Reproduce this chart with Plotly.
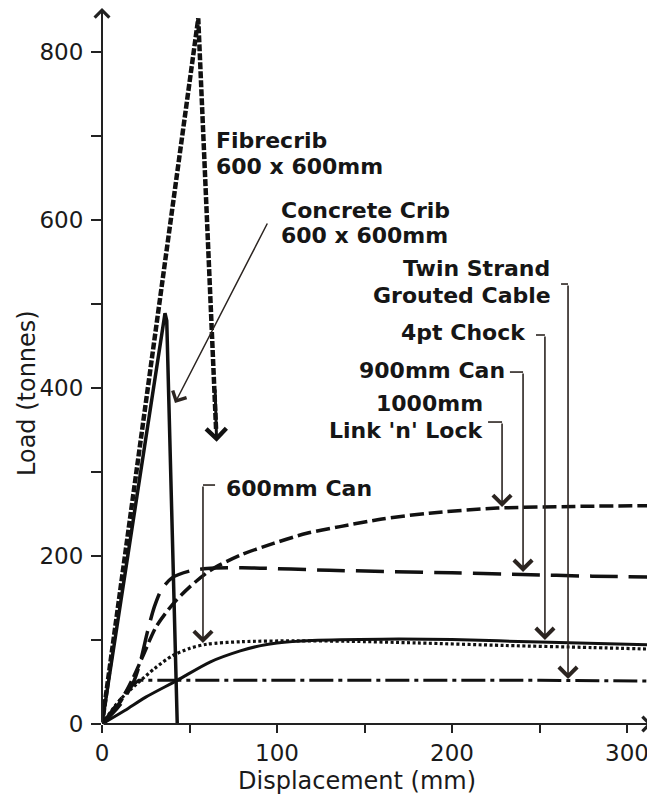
import plotly.graph_objects as go

# ---------------- data ----------------
concrete_x = [0, 20, 36, 37, 43]
concrete_y = [0, 270, 489, 480, 0]

fibre_x = [0, 55, 65.2]
fibre_y = [0, 840, 350]

link_x = [0, 10, 18, 24, 31, 41, 50, 62, 79, 98, 117, 136, 160, 187, 226, 270, 316]
link_y = [0, 25, 56, 84, 116, 144, 163, 183, 201, 215, 227, 235, 244, 251, 257, 259, 260]

can900_x = [0, 10, 18, 22, 26, 30, 34, 40, 50, 60, 80, 130, 200, 240, 280, 316]
can900_y = [0, 22, 50, 75, 110, 140, 160, 174, 182, 185, 186, 183, 180, 178, 176, 175]

can600_x = [0, 10, 20, 30, 40, 50, 60, 80, 110, 140, 180, 230, 280, 316]
can600_y = [0, 28, 48, 66, 81, 90, 95, 98, 99, 98.5, 96.5, 93.5, 91, 89]

chock_x = [0, 13, 25, 43, 62, 79, 90, 100, 120, 160, 200, 250, 316]
chock_y = [0, 16, 32, 52, 74, 87, 93, 96.5, 99.5, 101, 100.5, 97.5, 94]

cable_x = [0, 8, 15, 21, 40, 100, 200, 250, 316]
cable_y = [0, 22, 42, 52, 52, 52, 52, 52, 51]

x_tickvals = [0, 50, 100, 150, 200, 250, 300]
x_ticktext = ["0", "", "100", "", "200", "", "300"]
y_tickvals = [0, 100, 200, 300, 400, 500, 600, 700, 800]
y_ticktext = ["0", "", "200", "", "400", "", "600", "", "800"]

# ---------------- figure ----------------
FONT = "DejaVu Sans"
INK = "#111111"
ARROW = "#2b2420"

fig = go.Figure()

def add_line(x, y, dash, width, shape="spline"):
    fig.add_trace(go.Scatter(
        x=x, y=y, mode="lines",
        line=dict(color=INK, width=width, dash=dash, shape=shape,
                  smoothing=0.8 if shape == "spline" else None),
        hoverinfo="skip", showlegend=False))

add_line(cable_x, cable_y, "24px,5px,4px,5px", 3, "linear")
add_line(chock_x, chock_y, "solid", 3)
add_line(can600_x, can600_y, "3px,2.5px", 3.2)
add_line(can900_x, can900_y, "28px,11px", 3.5)
add_line(link_x, link_y, "14px,5px", 3.5)
add_line(concrete_x, concrete_y, "solid", 3.5, "linear")
add_line(fibre_x, fibre_y, "7px,2px", 4.5, "linear")

annotations = []

def arrow(x, y, ax, ay, width=1.6, size=2.2, color=ARROW):
    annotations.append(dict(
        x=x, y=y, ax=ax, ay=ay, xref="x", yref="y", axref="x", ayref="y",
        text="", showarrow=True, arrowhead=4, arrowsize=size,
        arrowwidth=width, arrowcolor=color, standoff=0, startstandoff=0))

def label(text, x, y, anchor):
    annotations.append(dict(
        x=x, y=y, xref="x", yref="y", text="<b>%s</b>" % text,
        showarrow=False, xanchor=anchor, yanchor="middle",
        font=dict(family=FONT, size=22, color="#161616")))

# axes with arrow tips
arrow(0, 852.4, 0, 0, width=2, size=1.42, color="#222222")
arrow(314.3, 0, 0, 0, width=2, size=1.42, color="#222222")

# fibrecrib arrow head
arrow(65.5, 336, 64.6, 400, width=3, size=1.3, color=INK)

# concrete crib pointer
arrow(41.7, 382.1, 94.9, 597.6, width=1.5, size=2.0)

# bracket pointers
brackets = [
    (262.3, 266.3, 523.8, 53.6),   # twin strand
    (248.0, 253.1, 463.1, 100.0),  # 4pt chock
    (233.1, 240.6, 419.0, 181.0),  # 900mm can
    (220.6, 228.6, 359.5, 258.3),  # link n lock
    (64.6, 57.7, 284.5, 96.4),     # 600mm can
]
shapes = []
for x0, x1, ytop, ytip in brackets:
    shapes.append(dict(type="line", xref="x", yref="y", x0=x0, x1=x1,
                       y0=ytop, y1=ytop, line=dict(color=ARROW, width=1.6)))
    arrow(x1, ytip, x1, ytop)

label("Fibrecrib", 64.0, 695.2, "left")
label("600 x 600mm", 64.0, 664.3, "left")
label("Concrete Crib", 101.1, 611.9, "left")
label("600 x 600mm", 101.1, 581.0, "left")
label("Twin Strand", 257.1, 541.7, "right")
label("Grouted Cable", 257.7, 510.7, "right")
label("4pt Chock", 243.4, 465.5, "right")
label("900mm Can", 231.4, 421.4, "right")
label("1000mm", 218.9, 381.0, "right")
label("Link 'n' Lock", 218.9, 350.0, "right")
label("600mm Can", 69.7, 279.8, "left")

# axis titles
annotations.append(dict(x=0.461, y=-0.0796, xref="paper", yref="paper",
                        text="Displacement (mm)", showarrow=False,
                        xanchor="center", yanchor="middle",
                        font=dict(family=FONT, size=24, color="#1a1a1a")))
annotations.append(dict(x=-0.1356, y=0.4623, xref="paper", yref="paper",
                        text="Load (tonnes)", showarrow=False, textangle=-90,
                        xanchor="center", yanchor="middle",
                        font=dict(family=FONT, size=24, color="#1a1a1a")))

# the page body adds an 8px offset; size the figure to compensate
fig.update_layout(
    width=647, height=786,
    margin=dict(l=94, r=0, t=0, b=70),
    paper_bgcolor="white", plot_bgcolor="white",
    font=dict(family=FONT, color="#1a1a1a"),
    annotations=annotations, shapes=shapes,
    xaxis=dict(range=[0, 316], showgrid=False, zeroline=False, showline=False,
               tickvals=x_tickvals, ticktext=x_ticktext, ticks="outside",
               ticklen=8, tickwidth=2, tickcolor="#222222",
               ticklabelstandoff=0,
               tickfont=dict(family=FONT, size=23, color="#1a1a1a")),
    yaxis=dict(range=[0, 852.4], showgrid=False, zeroline=False, showline=False,
               tickvals=y_tickvals, ticktext=y_ticktext, ticks="outside",
               ticklen=10, tickwidth=2, tickcolor="#222222",
               ticklabelstandoff=3,
               tickfont=dict(family=FONT, size=23, color="#1a1a1a")),
)

fig.write_html("out.html")
